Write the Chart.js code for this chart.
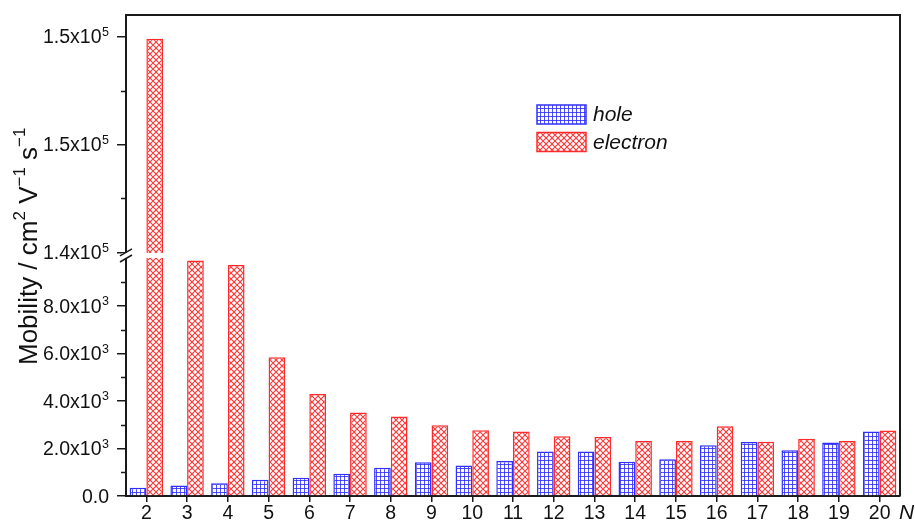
<!DOCTYPE html>
<html>
<head>
<meta charset="utf-8">
<script src="https://cdn.jsdelivr.net/npm/chart.js@4.4.1/dist/chart.umd.min.js"></script>
<style>
  html, body { margin: 0; padding: 0; background: #fff; }
  #wrap { width: 915px; height: 528px; }
</style>
</head>
<body>
<div id="wrap"><canvas id="c" width="915" height="528"></canvas></div>
<script>
// ---- data ----
const categories = ['2','3','4','5','6','7','8','9','10','11','12','13','14','15','16','17','18','19','20'];
const holeMobility = [345, 440, 540, 680, 770, 935, 1187, 1420, 1280, 1470, 1870, 1870, 1440, 1550, 2140, 2270, 1930, 2250, 2720];
const electronMobility = [149900, 9920, 9730, 5840, 4290, 3520, 3350, 2980, 2770, 2720, 2520, 2480, 2320, 2320, 2940, 2280, 2410, 2320, 2760];
const yTickValues = [0, 2000, 4000, 6000, 8000, 140000, 145000, 150000];
const yTickLabels = ['0.0', '2.0x10', '4.0x10', '6.0x10', '8.0x10', '1.4x10', '1.5x10', '1.5x10'];
const yTickExponents = ['', '3', '3', '3', '3', '5', '5', '5'];
const yMinorTicks = [1000, 3000, 5000, 7000, 9000, 142500, 147500];
const seriesLabels = ['hole', 'electron'];

// ---- broken-axis scale ----
const BREAK_LOW = 10000, BREAK_HIGH = 140000;
const LOW_FRAC = 0.4938, GAP_FRAC = 0.0125;

class BrokenScale extends Chart.LinearScale {
  buildTicks() { return yTickValues.map(v => ({ value: v })); }
  getPixelForValue(v) {
    if (v === null || v === undefined || isNaN(v)) return NaN;
    const H = this.bottom - this.top;
    const lowH = H * LOW_FRAC, gap = H * GAP_FRAC, upH = H - lowH - gap;
    if (v <= BREAK_LOW) return this.bottom - (v / BREAK_LOW) * lowH;
    if (v < BREAK_HIGH) return this.bottom - lowH;
    return this.bottom - lowH - gap - (v - BREAK_HIGH) / (this.max - BREAK_HIGH) * upH;
  }
  getValueForPixel(p) {
    const H = this.bottom - this.top;
    const lowH = H * LOW_FRAC, gap = H * GAP_FRAC, upH = H - lowH - gap;
    const d = this.bottom - p;
    if (d <= lowH) return d / lowH * BREAK_LOW;
    if (d <= lowH + gap) return BREAK_LOW;
    return BREAK_HIGH + (d - lowH - gap) / upH * (this.max - BREAK_HIGH);
  }
}
BrokenScale.id = 'broken';
BrokenScale.defaults = Chart.LinearScale.defaults;
Chart.register(BrokenScale);

// ---- hatch patterns ----
function gridPattern(color) {
  const c = document.createElement('canvas'); c.width = 4; c.height = 4;
  const g = c.getContext('2d');
  g.fillStyle = '#fff'; g.fillRect(0, 0, 4, 4);
  g.strokeStyle = color; g.lineWidth = 1;
  g.beginPath(); g.moveTo(0.5, 0); g.lineTo(0.5, 4); g.moveTo(0, 0.5); g.lineTo(4, 0.5); g.stroke();
  return g.createPattern(c, 'repeat');
}
function crossPattern(color) {
  const s = 6;
  const c = document.createElement('canvas'); c.width = s; c.height = s;
  const g = c.getContext('2d');
  g.fillStyle = '#fff'; g.fillRect(0, 0, s, s);
  g.strokeStyle = color; g.lineWidth = 1.1;
  g.beginPath(); g.moveTo(0, 0); g.lineTo(s, s); g.moveTo(s, 0); g.lineTo(0, s); g.stroke();
  return g.createPattern(c, 'repeat');
}
const BLUE = '#2f2fff', RED = '#ff2b2b';
const holeFill = gridPattern('rgba(47,47,255,0.85)');
const elecFill = crossPattern('rgba(255,43,43,0.95)');

const FONT = "'Liberation Sans', Arial, sans-serif";
const AXIS = '#1a1a1a';
const TXT = '#111';

const decorPlugin = {
  id: 'decor',
  afterDatasetsDraw(chart) {
    const ctx = chart.ctx, a = chart.chartArea, y = chart.scales.y;
    const yHi = y.getPixelForValue(BREAK_HIGH), yLo = y.getPixelForValue(BREAK_LOW);
    ctx.save();
    ctx.fillStyle = '#fff';
    ctx.fillRect(a.left - 4, yHi + 0.5, a.right - a.left + 2, yLo - yHi - 1);
    ctx.restore();
  },
  afterDraw(chart) {
    const ctx = chart.ctx, a = chart.chartArea, y = chart.scales.y;
    ctx.save();
    // frame top & right
    ctx.strokeStyle = AXIS; ctx.lineWidth = 2;
    ctx.beginPath();
    ctx.moveTo(a.left, a.top); ctx.lineTo(a.right, a.top); ctx.lineTo(a.right, a.bottom);
    ctx.stroke();
    // break marks
    const yHi = y.getPixelForValue(BREAK_HIGH), yLo = y.getPixelForValue(BREAK_LOW);
    ctx.lineWidth = 1.5;
    ctx.beginPath();
    [yHi, yLo].forEach(py => { ctx.moveTo(a.left - 6, py + 3.5); ctx.lineTo(a.left + 6, py - 3.5); });
    ctx.stroke();
    // minor ticks
    ctx.beginPath();
    yMinorTicks.forEach(v => { const py = Math.round(y.getPixelForValue(v)) + 0.5; ctx.moveTo(a.left - 5, py); ctx.lineTo(a.left, py); });
    ctx.stroke();
    // y tick labels with superscript exponents
    const right = a.left - 17;
    yTickValues.forEach((v, i) => {
      const py = y.getPixelForValue(v);
      let r = right;
      ctx.fillStyle = TXT;
      if (yTickExponents[i]) {
        ctx.font = "12.5px " + FONT; ctx.textAlign = 'right'; ctx.textBaseline = 'alphabetic';
        ctx.fillText(yTickExponents[i], r, py - 0.5);
        r -= ctx.measureText(yTickExponents[i]).width + 0.5;
      }
      ctx.font = "19.5px " + FONT; ctx.textAlign = 'right'; ctx.textBaseline = 'middle';
      ctx.fillText(yTickLabels[i], r, py + 1.5);
    });
    // N axis label
    ctx.fillStyle = TXT;
    ctx.font = "italic 21px " + FONT;
    ctx.textAlign = 'left'; ctx.textBaseline = 'middle';
    ctx.fillText('N', a.right - 1, 513);
    // legend
    const bx = 537, bw = 49, bh = 19;
    const rows = [[105, holeFill, BLUE, seriesLabels[0]], [132.5, elecFill, RED, seriesLabels[1]]];
    rows.forEach(([by, fill, col, lab]) => {
      ctx.fillStyle = fill; ctx.fillRect(bx, by, bw, bh);
      ctx.strokeStyle = col; ctx.lineWidth = 1.5; ctx.strokeRect(bx, by, bw, bh);
      ctx.fillStyle = TXT; ctx.font = "italic 21px " + FONT;
      ctx.textAlign = 'left'; ctx.textBaseline = 'middle';
      ctx.fillText(lab, bx + bw + 7, by + bh / 2 + 1);
    });
    // y title
    ctx.translate(30, 365);
    ctx.rotate(-Math.PI / 2);
    ctx.fillStyle = TXT; ctx.textAlign = 'left'; ctx.textBaseline = 'middle';
    const big = "26px " + FONT, small = "17px " + FONT;
    const parts = [['Mobility / cm', big, 0], ['2', small, -10], [' V', big, 0], ['\u22121', small, -10], [' s', big, 0], ['\u22121', small, -10]];
    let px = 0;
    parts.forEach(([t, f, dy]) => { ctx.font = f; ctx.fillText(t, px, dy); px += ctx.measureText(t).width; });
    ctx.restore();
  }
};

new Chart(document.getElementById('c'), {
  type: 'bar',
  data: {
    labels: categories,
    datasets: [
      { label: seriesLabels[0], data: holeMobility, backgroundColor: holeFill, borderColor: BLUE, borderWidth: 1.5 },
      { label: seriesLabels[1], data: electronMobility, backgroundColor: elecFill, borderColor: RED, borderWidth: 1.5 }
    ]
  },
  options: {
    responsive: false,
    animation: false,
    devicePixelRatio: 1,
    datasets: { bar: { barPercentage: 1.0, categoryPercentage: 0.82 } },
    layout: { padding: { left: 0, top: 15, right: 15, bottom: 0 } },
    plugins: { legend: { display: false }, tooltip: { enabled: false } },
    scales: {
      x: {
        type: 'category',
        offset: true,
        grid: { display: true, drawOnChartArea: false, offset: false, tickLength: 6, color: AXIS, lineWidth: 1.5 },
        border: { display: true, color: AXIS, width: 2 },
        ticks: { color: TXT, font: { family: FONT, size: 19.5 }, padding: 0, maxRotation: 0, autoSkip: false },
        afterFit(s) { s.height = 32; }
      },
      y: {
        type: 'broken',
        min: 0,
        max: 151000,
        grid: { display: true, drawOnChartArea: false, tickLength: 9, color: AXIS, lineWidth: 1.5 },
        border: { display: true, color: AXIS, width: 2 },
        ticks: { display: false, autoSkip: false },
        afterFit(s) { s.width = 126; }
      }
    }
  },
  plugins: [decorPlugin]
});
</script>
</body>
</html>
